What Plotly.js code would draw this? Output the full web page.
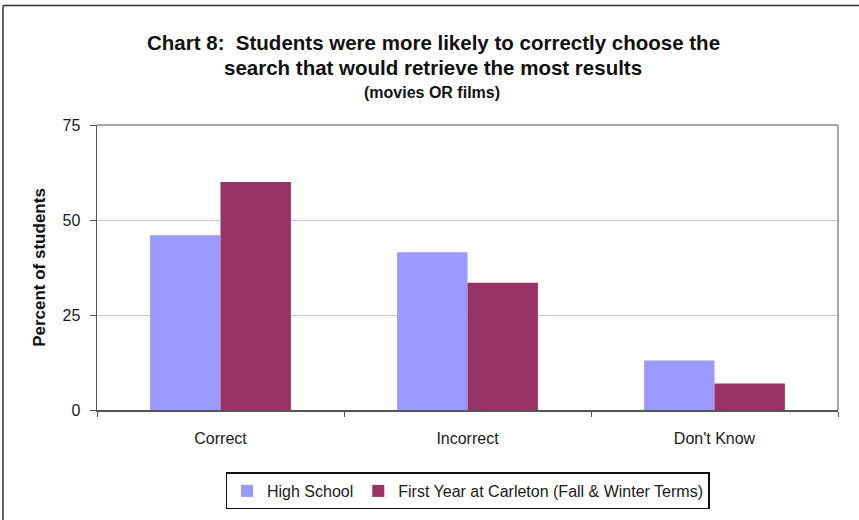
<!DOCTYPE html>
<html>
<head>
<meta charset="utf-8">
<script src="https://cdn.plot.ly/plotly-3.0.1.min.js"></script>
<style>
  html, body { margin: 0; padding: 0; background: #fff; }
  #chart { width: 859px; height: 520px; }
</style>
</head>
<body>
<div id="chart"></div>
<script>
// Answer categories and percentages per student group
const categories = ["Correct", "Incorrect", "Don't Know"];
const highSchool = [46, 41.5, 13];
const carleton = [60, 33.5, 7];
const seriesNames = ["High School", "First Year at Carleton (Fall & Winter Terms)"];
const yTicks = [0, 25, 50, 75];

const font = "Liberation Sans, Arial, sans-serif";

const traces = [
  {
    type: "bar", name: seriesNames[0], x: categories, y: highSchool,
    marker: { color: "#9999FF", line: { width: 0 } }, hoverinfo: "x+y"
  },
  {
    type: "bar", name: seriesNames[1], x: categories, y: carleton,
    marker: { color: "#993366", line: { width: 0 } }, hoverinfo: "x+y"
  }
];

const layout = {
  width: 859, height: 520,
  margin: { l: 97, r: 21, t: 125, b: 109 },
  paper_bgcolor: "#ffffff", plot_bgcolor: "#ffffff",
  font: { family: font, color: "#1a1a1a", size: 16 },
  barmode: "group", bargap: 0.43, bargroupgap: 0,
  showlegend: true,
  legend: {
    orientation: "h", x: 0.5, xanchor: "center", y: -0.215, yanchor: "top",
    bordercolor: "#111", borderwidth: 1.5, bgcolor: "#fff",
    font: { family: font, size: 16, color: "#1a1a1a" },
    itemwidth: 30, traceorder: "normal"
  },
  xaxis: {
    type: "category", showline: true, linecolor: "#555", linewidth: 1.5,
    ticks: "outside", tickson: "boundaries", ticklen: 5, tickcolor: "#555",
    tickfont: { family: font, size: 16, color: "#1a1a1a" },
    ticklabelstandoff: 13,
    showgrid: false, mirror: false, fixedrange: true
  },
  yaxis: {
    range: [0, 75], tickvals: yTicks, ticktext: yTicks.map(String),
    showline: true, linecolor: "#555", linewidth: 1.5,
    ticks: "outside", ticklen: 6, tickcolor: "#555",
    tickfont: { family: font, size: 16, color: "#1a1a1a" },
    ticklabelstandoff: 6,
    showgrid: true, gridcolor: "#c8c8c8", gridwidth: 1,
    zeroline: false, fixedrange: true,
    title: { text: "<b>Percent of students</b>", font: { family: font, size: 17, color: "#111" }, standoff: 12 }
  },
  shapes: [
    // right and top frame of the plotting area
    { type: "line", xref: "paper", yref: "paper", x0: 0, x1: 1, y0: 1, y1: 1, line: { color: "#8a8a8a", width: 1.5 } },
    { type: "line", xref: "paper", yref: "paper", x0: 1, x1: 1, y0: 0, y1: 1, line: { color: "#8a8a8a", width: 1.5 } },
    // outer chart border
    { type: "line", xref: "paper", yref: "paper", x0: -94/741, x1: 1.2, y0: 1 + 120/286, y1: 1 + 120/286, line: { color: "#333", width: 1.5 } },
    { type: "line", xref: "paper", yref: "paper", x0: -94/741, x1: -94/741, y0: 1 + 120/286, y1: -0.5, line: { color: "#333", width: 1.5 } }
  ],
  annotations: [
    { text: "<b>Chart 8:  Students were more likely to correctly choose the</b>", xref: "paper", yref: "paper",
      x: (433 - 97) / 741, y: 1 + (125 - 42) / 286, xanchor: "center", yanchor: "middle", showarrow: false,
      font: { family: font, size: 20.5, color: "#111" } },
    { text: "<b>search that would retrieve the most results</b>", xref: "paper", yref: "paper",
      x: (433 - 97) / 741, y: 1 + (125 - 67) / 286, xanchor: "center", yanchor: "middle", showarrow: false,
      font: { family: font, size: 20.5, color: "#111" } },
    { text: "<b>(movies OR films)</b>", xref: "paper", yref: "paper",
      x: (432 - 97) / 741, y: 1 + (125 - 92) / 286, xanchor: "center", yanchor: "middle", showarrow: false,
      font: { family: font, size: 16, color: "#111" } }
  ]
};

Plotly.newPlot("chart", traces, layout, { displayModeBar: false, staticPlot: true });
</script>
</body>
</html>
